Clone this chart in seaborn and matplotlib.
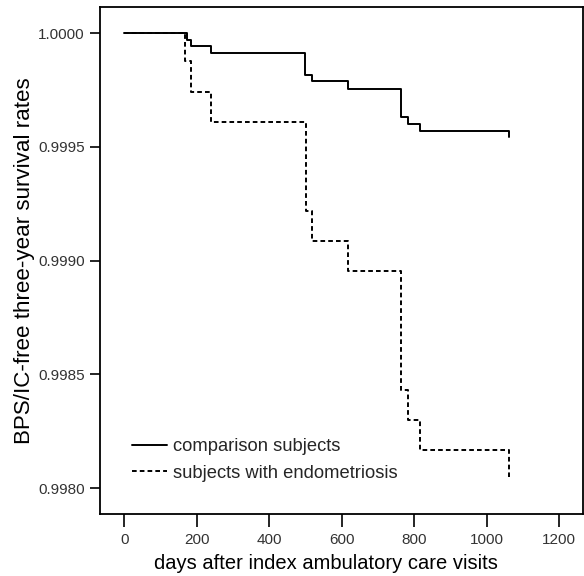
import matplotlib
matplotlib.use("Agg")
import matplotlib.pyplot as plt
import seaborn as sns
import pandas as pd

# Kaplan-Meier style step values
comparison_days = [0, 172, 184, 239, 499, 517, 617, 765, 784, 817, 1062]
comparison_surv = [1.0, 0.99997, 0.999941, 0.999911, 0.999817, 0.999788,
                   0.999756, 0.999632, 0.999602, 0.999569, 0.999542]
endo_days = [0, 168, 184, 239, 501, 517, 617, 765, 784, 817, 1062]
endo_surv = [1.0, 0.999876, 0.99974, 0.99961, 0.999218, 0.999086,
             0.998956, 0.998432, 0.998301, 0.998169, 0.998048]

x_ticks = [0, 200, 400, 600, 800, 1000, 1200]
y_ticks = [0.9980, 0.9985, 0.9990, 0.9995, 1.0000]

sns.set_style("ticks")
plt.rcParams['font.family'] = ['Liberation Sans', 'DejaVu Sans']

fig = plt.figure(figsize=(5.84, 5.76), dpi=100)
ax = fig.add_axes([0.171, 0.108, 0.827, 0.88])

df_comp = pd.DataFrame({'days': comparison_days, 'surv': comparison_surv})
df_endo = pd.DataFrame({'days': endo_days, 'surv': endo_surv})

sns.lineplot(data=df_comp, x='days', y='surv', ax=ax, color='black',
             linewidth=1.4, drawstyle='steps-post', label='comparison subjects')
sns.lineplot(data=df_endo, x='days', y='surv', ax=ax, color='black',
             linewidth=1.4, drawstyle='steps-post', linestyle=(0, (2.4, 1.6)),
             label='subjects with endometriosis')

ax.set_xlim(-68, 1266)
ax.set_ylim(0.997887, 1.000115)
ax.set_xticks(x_ticks)
ax.set_yticks(y_ticks)
ax.set_yticklabels([f'{v:.4f}' for v in y_ticks])
ax.tick_params(axis='both', labelsize=11, colors='black', labelcolor='#333333',
               width=1.2, direction='out', pad=4)
ax.tick_params(axis='x', length=9.5)
ax.tick_params(axis='y', length=7)

for s in ax.spines.values():
    s.set_linewidth(1.3)
    s.set_color('black')

ax.set_xlabel('days after index ambulatory care visits', fontsize=14.5, color='black')
ax.xaxis.set_label_coords(0.468, -0.079)
ax.set_ylabel('BPS/IC-free three-year survival rates', fontsize=16.1, color='black')
ax.yaxis.set_label_coords(-0.135, 0.5)

ax.legend(loc='lower left', bbox_to_anchor=(0.033, 0.031), frameon=False,
          fontsize=13.2, handlelength=1.9, handletextpad=0.33, labelspacing=0.5)

fig.savefig('out.png', dpi=100)
